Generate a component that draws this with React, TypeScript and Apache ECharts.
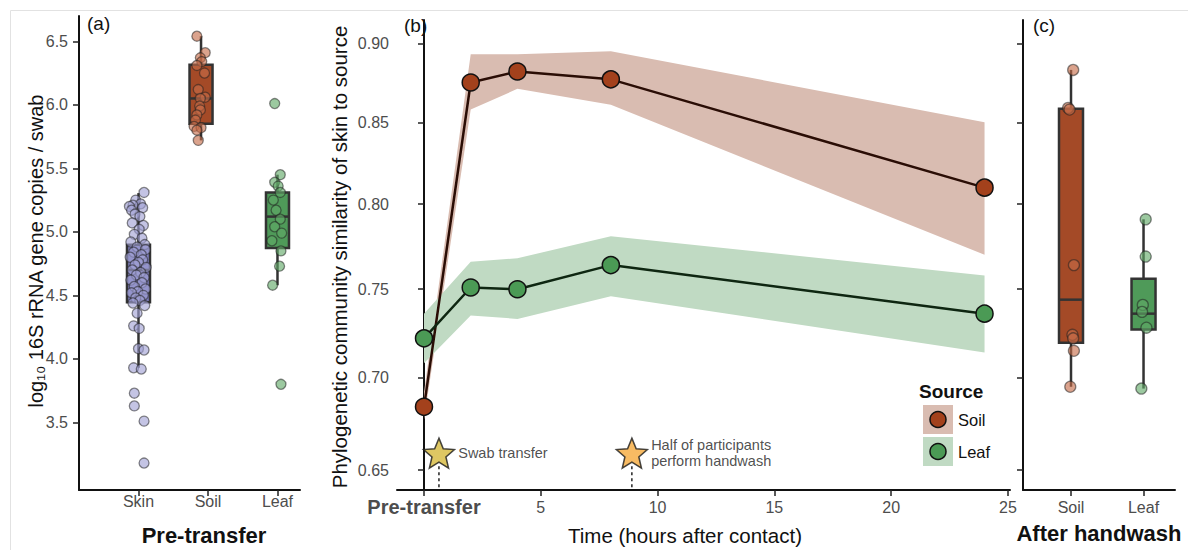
import { useEffect, useRef } from "react";
import * as echarts from "echarts";

const FONT = '"Liberation Sans", Arial, Helvetica, sans-serif';

// ---------- Panel (a): pre-transfer bacterial load ----------
const preGroups = ["Skin", "Soil", "Leaf"];
const preGroupX = [1, 1.9, 3];
const preTicks = [3.5, 4.0, 4.5, 5.0, 5.5, 6.0, 6.5];

const skinValues = [
  5.31, 5.25, 5.22, 5.21, 5.2, 5.19, 5.17, 5.14, 5.12, 5.07, 5.05, 5.02, 4.98,
  4.95, 4.92, 4.9, 4.88, 4.86, 4.84, 4.82, 4.8, 4.78, 4.76, 4.74, 4.72, 4.7,
  4.68, 4.66, 4.64, 4.62, 4.6, 4.57, 4.55, 4.53, 4.52, 4.5, 4.48, 4.46, 4.44,
  4.42, 4.36, 4.26, 4.24, 4.08, 4.07, 3.93, 3.92, 3.73, 3.63, 3.51, 3.18,
];
const skinJitter = [
  0.08, -0.04, 0.03, -0.08, -0.13, 0.06, -0.1, -0.05, 0.02, -0.09, 0.07, 0.01,
  -0.06, 0.05, -0.11, 0.09, -0.02, 0.1, -0.07, 0.04, -0.12, 0.06, 0.0, -0.05,
  0.11, -0.09, 0.03, -0.03, 0.08, -0.11, 0.05, -0.06, 0.1, -0.01, -0.1, 0.07,
  -0.04, 0.02, -0.08, 0.09, -0.02, -0.07, 0.01, 0.0, 0.08, -0.07, 0.04, -0.06,
  -0.06, 0.08, 0.08,
];
const soilPreValues = [
  6.54, 6.41, 6.37, 6.34, 6.31, 6.25, 6.12, 6.06, 6.05, 5.99, 5.96, 5.92, 5.88,
  5.83, 5.82, 5.8, 5.72,
];
const soilPreJitter = [
  -0.06, 0.06, -0.01, 0.01, -0.06, 0.05, -0.04, 0.06, -0.01, -0.02, -0.01,
  -0.06, -0.08, -0.1, 0.0, -0.06, -0.04,
];
const leafPreValues = [
  6.01, 5.45, 5.39, 5.36, 5.31, 5.25, 5.17, 5.1, 5.04, 4.99, 4.93, 4.85, 4.73,
  4.58, 3.8,
];
const leafPreJitter = [
  -0.04, 0.04, -0.04, 0.01, 0.04, -0.06, -0.02, 0.04, -0.04, 0.06, -0.08, 0.05,
  0.03, -0.07, 0.05,
];
// [lower whisker, Q1, median, Q3, upper whisker]
const skinBox = [3.93, 4.445, 4.7, 4.899, 5.305];
const soilPreBox = [5.72, 5.85, 6.05, 6.315, 6.54];
const leafPreBox = [4.58, 4.873, 5.12, 5.31, 5.45];

// ---------- Panel (b): similarity over time ----------
const hours = [0, 2, 4, 8, 24];
const hourTicks = [0, 5, 10, 15, 20, 25];
const simTicks = [0.65, 0.7, 0.75, 0.8, 0.85, 0.9];
const soilMean = [0.684, 0.875, 0.882, 0.877, 0.81];
const soilLower = [0.677, 0.858, 0.871, 0.861, 0.77];
const soilUpper = [0.692, 0.893, 0.893, 0.895, 0.85];
const leafMean = [0.722, 0.751, 0.75, 0.764, 0.736];
const leafLower = [0.708, 0.735, 0.733, 0.746, 0.714];
const leafUpper = [0.736, 0.766, 0.768, 0.781, 0.758];
const events = ["Swab transfer", "Half of participants\nperform handwash"];
const eventHours = [0.64, 8.9];
const eventLevel = 0.659;
const eventStemTop = 0.652;

// ---------- Panel (c): after handwash ----------
const postGroups = ["Soil", "Leaf"];
const soilPostValues = [0.883, 0.859, 0.858, 0.764, 0.724, 0.722, 0.715, 0.695];
const soilPostJitter = [0.03, -0.04, -0.02, 0.04, 0.02, 0.03, 0.04, -0.01];
const leafPostValues = [0.791, 0.769, 0.741, 0.737, 0.728, 0.694];
const leafPostJitter = [0.03, 0.03, -0.01, -0.02, 0.04, -0.03];
const soilPostBox = [0.695, 0.7195, 0.744, 0.8585, 0.883];
const leafPostBox = [0.694, 0.727, 0.736, 0.756, 0.791];

// Similarity axis uses a power transform (exponent 0.4)
const SIM_POWER = 0.4;
const sim = (v: number) => Math.pow(v, SIM_POWER);
const simInv = (t: number) => Math.pow(t, 1 / SIM_POWER);
const SIM_MIN = 0.6395;
const SIM_MAX = 0.9151;

// Colours
const SKIN_FILL = "#7f7fbf";
const SOIL_FILL = "#a44a27";
const LEAF_FILL = "#4f9a59";
const SOIL_RIBBON = "#d9bcb1";
const LEAF_RIBBON = "#c0dac3";
const SOIL_POINT = "#a3411c";
const LEAF_POINT = "#4b9a55";

const STAR =
  "path://M50 0 L63.23 31.8 L97.55 34.55 L71.4 56.95 L79.39 90.45 L50 72.5 L20.61 90.45 L28.6 56.95 L2.45 34.55 L36.77 31.8 Z";

const tickLabel = {
  color: "#4d4d4d",
  fontSize: 16,
  fontFamily: FONT,
};
const axisLineStyle = { show: true, lineStyle: { color: "#111", width: 2 } };
const axisTickStyle = (values: number[]) => ({
  show: true,
  length: 6,
  customValues: values,
  lineStyle: { color: "#222", width: 1.5 },
});

function boxSeries(
  xAxisIndex: number,
  items: { x: number; stats: number[]; fill: string }[],
  width: number,
  transform: (v: number) => number
) {
  return {
    type: "custom",
    xAxisIndex,
    yAxisIndex: xAxisIndex,
    z: 2,
    silent: true,
    data: items.map((it) => [it.x, ...it.stats.map(transform)]),
    renderItem: (params: any, api: any) => {
      const x = api.value(0);
      const pMin = api.coord([x, api.value(1)]);
      const pQ1 = api.coord([x, api.value(2)]);
      const pMed = api.coord([x, api.value(3)]);
      const pQ3 = api.coord([x, api.value(4)]);
      const pMax = api.coord([x, api.value(5)]);
      const cx = pQ1[0];
      const stroke = "#333333";
      const fill = items[params.dataIndex].fill;
      return {
        type: "group",
        children: [
          {
            type: "line",
            shape: { x1: cx, y1: pMax[1], x2: cx, y2: pQ3[1] },
            style: { stroke, lineWidth: 2.5 },
          },
          {
            type: "line",
            shape: { x1: cx, y1: pQ1[1], x2: cx, y2: pMin[1] },
            style: { stroke, lineWidth: 2.5 },
          },
          {
            type: "rect",
            shape: {
              x: cx - width / 2,
              y: pQ3[1],
              width,
              height: pQ1[1] - pQ3[1],
            },
            style: { fill, stroke, lineWidth: 2.5 },
          },
          {
            type: "line",
            shape: {
              x1: cx - width / 2,
              y1: pMed[1],
              x2: cx + width / 2,
              y2: pMed[1],
            },
            style: { stroke, lineWidth: 2.5 },
          },
        ],
      };
    },
  };
}

function jitterSeries(
  axisIndex: number,
  x: number,
  values: number[],
  jitter: number[],
  fill: string,
  size: number,
  transform: (v: number) => number
) {
  return {
    type: "scatter",
    xAxisIndex: axisIndex,
    yAxisIndex: axisIndex,
    z: 3,
    symbol: "circle",
    symbolSize: size,
    silent: true,
    data: values.map((v, i) => [x + jitter[i], transform(v)]),
    itemStyle: {
      color: fill,
      borderColor: "rgba(30,30,30,0.65)",
      borderWidth: 1.3,
    },
  };
}

function ribbonSeries(lower: number[], upper: number[], fill: string) {
  return {
    type: "custom",
    xAxisIndex: 1,
    yAxisIndex: 1,
    z: 1,
    silent: true,
    data: hours.map((h, i) => [h, sim(lower[i]), sim(upper[i])]),
    renderItem: (params: any, api: any) => {
      if (params.dataIndex !== 0) return null;
      const pts: number[][] = [];
      hours.forEach((h, i) => pts.push(api.coord([h, sim(upper[i])])));
      for (let i = hours.length - 1; i >= 0; i--) {
        pts.push(api.coord([hours[i], sim(lower[i])]));
      }
      return { type: "polygon", shape: { points: pts }, style: { fill } };
    },
  };
}

function meanSeries(mean: number[], lineColor: string, pointColor: string) {
  return {
    type: "line",
    xAxisIndex: 1,
    yAxisIndex: 1,
    z: 4,
    silent: true,
    data: hours.map((h, i) => [h, sim(mean[i])]),
    symbol: "circle",
    symbolSize: 17,
    showAllSymbol: true,
    lineStyle: { color: lineColor, width: 2.5 },
    itemStyle: { color: pointColor, borderColor: "#111", borderWidth: 1.5 },
  };
}

export default function App() {
  const ref = useRef<HTMLDivElement>(null);

  useEffect(() => {
    if (!ref.current) return;
    const chart = echarts.init(ref.current, undefined, { renderer: "svg" });

    const option: any = {
      animation: false,
      backgroundColor: "#ffffff",
      textStyle: { fontFamily: FONT },
      grid: [
        { left: 79, top: 16, width: 221, height: 474 },
        { left: 397, top: 20, width: 613, height: 470 },
        { left: 1023, top: 20, width: 152, height: 470 },
      ],
      xAxis: [
        {
          type: "value",
          gridIndex: 0,
          min: 0.144,
          max: 3.324,
          axisLine: axisLineStyle,
          axisTick: axisTickStyle([1, 2, 3]),
          splitLine: { show: false },
          axisLabel: {
            ...tickLabel,
            margin: 3,
            customValues: [1, 2, 3],
            formatter: (v: number) => preGroups[Math.round(v) - 1],
          },
        },
        {
          type: "value",
          gridIndex: 1,
          min: -1.156,
          max: 25.09,
          axisLine: axisLineStyle,
          axisTick: axisTickStyle(hourTicks),
          splitLine: { show: false },
          axisLabel: {
            ...tickLabel,
            margin: 6,
            lineHeight: 22,
            customValues: hourTicks,
            formatter: (v: number) =>
              v === 0 ? "{pre|Pre-transfer}" : String(v),
            rich: {
              pre: {
                fontSize: 20,
                fontWeight: "bold",
                color: "#4d4d4d",
                fontFamily: FONT,
                lineHeight: 22,
              },
            },
          },
        },
        {
          type: "value",
          gridIndex: 2,
          min: 0.338,
          max: 2.434,
          axisLine: axisLineStyle,
          axisTick: axisTickStyle([1, 2]),
          splitLine: { show: false },
          axisLabel: {
            ...tickLabel,
            margin: 9,
            customValues: [1, 2],
            formatter: (v: number) => postGroups[Math.round(v) - 1],
          },
        },
      ],
      yAxis: [
        {
          type: "value",
          gridIndex: 0,
          min: 2.968,
          max: 6.699,
          axisLine: axisLineStyle,
          axisTick: axisTickStyle(preTicks),
          splitLine: { show: false },
          axisLabel: {
            ...tickLabel,
            margin: 11,
            customValues: preTicks,
            formatter: (v: number) => v.toFixed(1),
          },
        },
        {
          type: "value",
          gridIndex: 1,
          min: sim(SIM_MIN),
          max: sim(SIM_MAX),
          axisLine: axisLineStyle,
          axisTick: axisTickStyle(simTicks.map(sim)),
          splitLine: { show: false },
          axisLabel: {
            ...tickLabel,
            margin: 8,
            customValues: simTicks.map(sim),
            formatter: (v: number) => simInv(v).toFixed(2),
          },
        },
        {
          type: "value",
          gridIndex: 2,
          min: sim(SIM_MIN),
          max: sim(SIM_MAX),
          axisLine: axisLineStyle,
          axisTick: axisTickStyle(simTicks.map(sim)),
          splitLine: { show: false },
          axisLabel: { show: false },
        },
      ],
      series: [
        // (a)
        boxSeries(
          0,
          [
            { x: preGroupX[0], stats: skinBox, fill: SKIN_FILL },
            { x: preGroupX[1], stats: soilPreBox, fill: SOIL_FILL },
            { x: preGroupX[2], stats: leafPreBox, fill: LEAF_FILL },
          ],
          23,
          (v) => v
        ),
        jitterSeries(0, preGroupX[0], skinValues, skinJitter, "rgba(160,160,212,0.78)", 10, (v) => v),
        jitterSeries(0, preGroupX[1], soilPreValues, soilPreJitter, "rgba(198,108,72,0.78)", 10, (v) => v),
        jitterSeries(0, preGroupX[2], leafPreValues, leafPreJitter, "rgba(96,168,102,0.78)", 10, (v) => v),
        // (b)
        ribbonSeries(soilLower, soilUpper, SOIL_RIBBON),
        ribbonSeries(leafLower, leafUpper, LEAF_RIBBON),
        {
          type: "custom",
          xAxisIndex: 1,
          yAxisIndex: 1,
          z: 2,
          silent: true,
          data: eventHours.map((h) => [h]),
          renderItem: (_params: any, api: any) => {
            const h = api.value(0);
            const top = api.coord([h, sim(eventStemTop)]);
            const bottom = api.coord([h, sim(SIM_MIN)]);
            return {
              type: "line",
              shape: { x1: top[0], y1: top[1], x2: bottom[0], y2: bottom[1] },
              style: { stroke: "#222", lineWidth: 1.5, lineDash: [3, 3] },
            };
          },
        },
        meanSeries(soilMean, "#2a0d05", SOIL_POINT),
        meanSeries(leafMean, "#0e2611", LEAF_POINT),
        {
          type: "scatter",
          xAxisIndex: 1,
          yAxisIndex: 1,
          z: 5,
          silent: true,
          symbol: STAR,
          symbolSize: [31, 30],
          data: eventHours.map((h, i) => ({
            value: [h, sim(eventLevel)],
            itemStyle: { color: i === 0 ? "#d6b93c" : "#f6aa3c" },
          })),
          itemStyle: { borderColor: "#1a1a1a", borderWidth: 1.5 },
          label: {
            show: true,
            position: "right",
            distance: 3,
            formatter: (p: any) => events[p.dataIndex],
            fontSize: 14.5,
            lineHeight: 16,
            color: "#222",
            fontFamily: FONT,
          },
        },
        // (c)
        boxSeries(
          2,
          [
            { x: 1, stats: soilPostBox, fill: SOIL_FILL },
            { x: 2, stats: leafPostBox, fill: LEAF_FILL },
          ],
          24,
          sim
        ),
        jitterSeries(2, 1, soilPostValues, soilPostJitter, "rgba(198,108,72,0.78)", 11, sim),
        jitterSeries(2, 2, leafPostValues, leafPostJitter, "rgba(96,168,102,0.78)", 11, sim),
      ],
      graphic: [
        {
          type: "rect",
          silent: true,
          shape: { x: 10.5, y: 10.5, width: 1200, height: 600 },
          style: { fill: "none", stroke: "#e2e2e2", lineWidth: 1 },
        },
        // panel tags
        { type: "text", x: 87, y: 23, style: { text: "(a)", fontSize: 19, fontFamily: FONT, fill: "#111", verticalAlign: "middle" } },
        { type: "text", x: 404, y: 25, style: { text: "(b)", fontSize: 19, fontFamily: FONT, fill: "#111", verticalAlign: "middle" } },
        { type: "text", x: 1033, y: 25, style: { text: "(c)", fontSize: 19, fontFamily: FONT, fill: "#111", verticalAlign: "middle" } },
        // axis titles
        {
          type: "text",
          x: 36,
          y: 251,
          rotation: Math.PI / 2,
          style: {
            text: "log\u2081\u2080 16S rRNA gene copies / swab",
            fontSize: 20,
            fontFamily: FONT,
            fill: "#111",
            align: "center",
            verticalAlign: "middle",
          },
        },
        {
          type: "text",
          x: 339,
          y: 257,
          rotation: Math.PI / 2,
          style: {
            text: "Phylogenetic community similarity of skin to source",
            fontSize: 20.5,
            fontFamily: FONT,
            fill: "#111",
            align: "center",
            verticalAlign: "middle",
          },
        },
        {
          type: "text",
          x: 204,
          y: 535,
          style: {
            text: "Pre-transfer",
            fontSize: 22,
            fontWeight: "bold",
            fontFamily: FONT,
            fill: "#111",
            align: "center",
            verticalAlign: "middle",
          },
        },
        {
          type: "text",
          x: 685,
          y: 535,
          style: {
            text: "Time (hours after contact)",
            fontSize: 20.5,
            fontFamily: FONT,
            fill: "#111",
            align: "center",
            verticalAlign: "middle",
          },
        },
        {
          type: "text",
          x: 1099,
          y: 533,
          style: {
            text: "After handwash",
            fontSize: 22,
            fontWeight: "bold",
            fontFamily: FONT,
            fill: "#111",
            align: "center",
            verticalAlign: "middle",
          },
        },
        // legend
        {
          type: "text",
          x: 919,
          y: 391,
          style: {
            text: "Source",
            fontSize: 19,
            fontWeight: "bold",
            fontFamily: FONT,
            fill: "#111",
            verticalAlign: "middle",
          },
        },
        { type: "rect", shape: { x: 923, y: 405, width: 30, height: 29 }, style: { fill: SOIL_RIBBON } },
        { type: "circle", shape: { cx: 938, cy: 419.5, r: 8 }, style: { fill: SOIL_POINT, stroke: "#111", lineWidth: 1.5 } },
        { type: "text", x: 958, y: 420, style: { text: "Soil", fontSize: 16.5, fontFamily: FONT, fill: "#111", verticalAlign: "middle" } },
        { type: "rect", shape: { x: 923, y: 437, width: 30, height: 29 }, style: { fill: LEAF_RIBBON } },
        { type: "circle", shape: { cx: 938, cy: 451.5, r: 8 }, style: { fill: LEAF_POINT, stroke: "#111", lineWidth: 1.5 } },
        { type: "text", x: 958, y: 452, style: { text: "Leaf", fontSize: 16.5, fontFamily: FONT, fill: "#111", verticalAlign: "middle" } },
      ],
    };

    chart.setOption(option);
    return () => chart.dispose();
  }, []);

  return (
    <div
      ref={ref}
      style={{
        position: "fixed",
        left: 0,
        top: 0,
        width: 1188,
        height: 550,
        background: "#ffffff",
      }}
    />
  );
}
